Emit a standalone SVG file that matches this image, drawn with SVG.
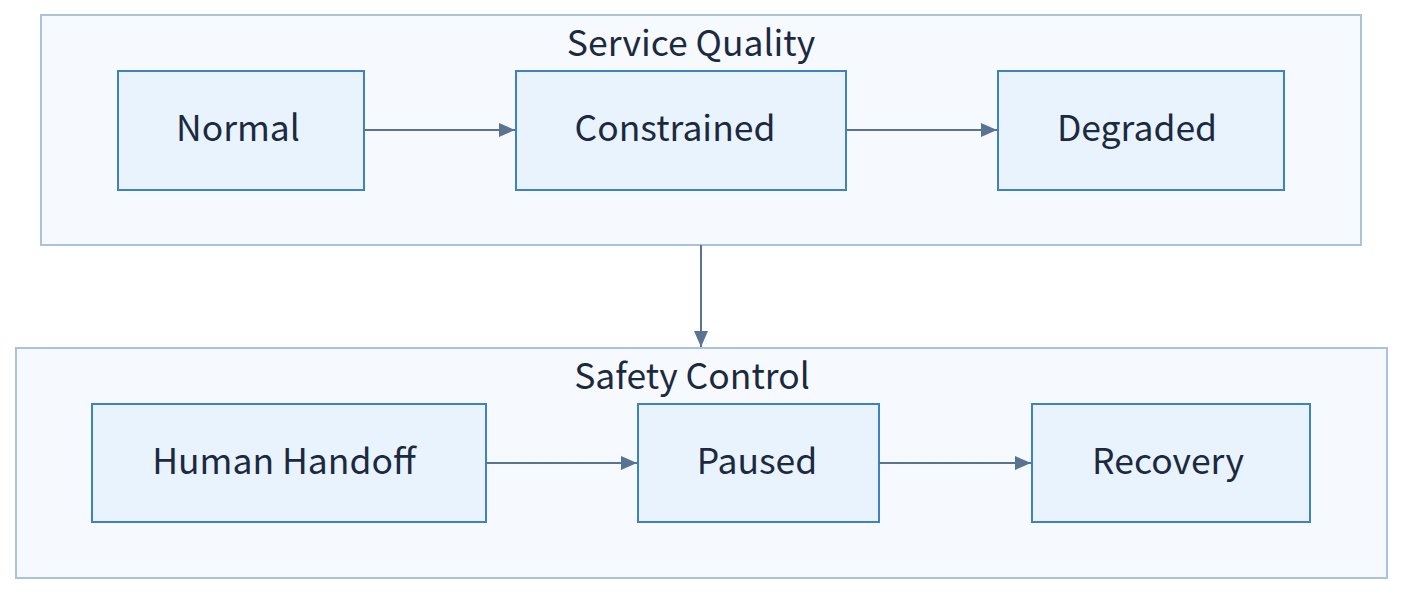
<svg xmlns="http://www.w3.org/2000/svg" width="1418" height="600" viewBox="0 0 1418 600">
<style>
.grp{fill:#f6f9fe;stroke:#a9c3dc;stroke-width:2}
.node rect{fill:#e9f3fe;stroke:#3f82c4;stroke-width:2}
text{font-family:"Noto Sans CJK KR","Noto Sans",sans-serif;font-size:35.5px;fill:#1b2a3e;text-anchor:middle;dominant-baseline:central}
.edge{stroke:#5a7391;stroke-width:2;fill:none;marker-end:url(#arr)}
</style>
<defs>
<marker id="arr" viewBox="0 0 16 14" refX="16" refY="7" markerWidth="16" markerHeight="14" markerUnits="userSpaceOnUse" orient="auto">
<path d="M0,0 L16,7 L0,14 z" fill="#5a7391"/>
</marker>
</defs>
<g id="group-service">
<rect class="grp" x="41" y="15" width="1320" height="230"/>
<text x="691" y="40">Service Quality</text>
</g>
<g id="group-safety">
<rect class="grp" x="16" y="348" width="1371" height="230"/>
<text x="692" y="373">Safety Control</text>
</g>
<g id="node-normal" class="node"><rect x="118" y="71" width="246" height="119"/><text x="238" y="125">Normal</text></g>
<g id="node-constrained" class="node"><rect x="516" y="71" width="330" height="119"/><text x="675" y="125">Constrained</text></g>
<g id="node-degraded" class="node"><rect x="998" y="71" width="286" height="119"/><text x="1137" y="125">Degraded</text></g>
<g id="node-handoff" class="node"><rect x="92" y="404" width="394" height="118"/><text x="284" y="458">Human Handoff</text></g>
<g id="node-paused" class="node"><rect x="638" y="404" width="241" height="118"/><text x="757" y="458">Paused</text></g>
<g id="node-recovery" class="node"><rect x="1032" y="404" width="278" height="118"/><text x="1168" y="458">Recovery</text></g>
<g id="connectors">
<path class="edge" d="M364,130 H515"/>
<path class="edge" d="M846,130 H997"/>
<path class="edge" d="M701,245 V347"/>
<path class="edge" d="M486,463 H637"/>
<path class="edge" d="M879,463 H1031"/>
</g>
</svg>
